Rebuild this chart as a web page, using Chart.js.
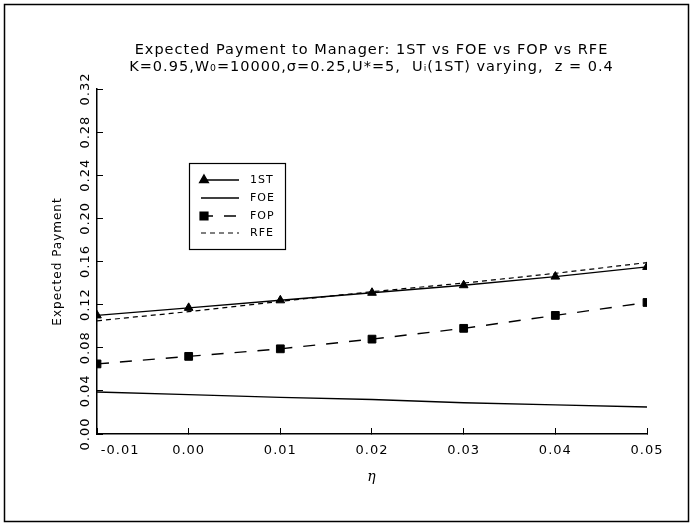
<!DOCTYPE html>
<html>
<head>
<meta charset="utf-8">
<script src="https://cdn.jsdelivr.net/npm/chart.js@4.4.1/dist/chart.umd.min.js"></script>
<style>
  html, body { margin: 0; padding: 0; background: #fff; }
  #wrap { width: 693px; height: 527px; }
</style>
</head>
<body>
<div id="wrap"><canvas id="canvas" width="693" height="527"></canvas></div>
<script>
// eta values on the x axis
var etaValues = [-0.01, 0.00, 0.01, 0.02, 0.03, 0.04, 0.05];

// expected payment series
var firstBest = [0.110, 0.117, 0.124, 0.131, 0.138, 0.146, 0.155];
var foeValues = [0.039, 0.0365, 0.034, 0.032, 0.029, 0.027, 0.025];
var fopValues = [0.065, 0.072, 0.079, 0.088, 0.098, 0.110, 0.122];
var rfeValues = [0.105, 0.1135, 0.123, 0.132, 0.140, 0.149, 0.159];

var seriesNames = ["1ST", "FOE", "FOP", "RFE"];

var titleLines = [
    "Expected Payment to Manager: 1ST vs FOE vs FOP vs RFE",
    "K=0.95,W\u2080=10000,\u03c3=0.25,U*=5,  U\u1d62(1ST) varying,  z = 0.4"
];

var toPoints = function (ys) {
    var pts = [];
    for (var i = 0; i < etaValues.length; i++) {
        pts.push({x: etaValues[i], y: ys[i]});
    }
    return pts;
};

var fontName = "'DejaVu Sans', sans-serif";

/* white page, outer frame, and the wide letter spacing of the old plot font */
var framePlugin = {
    id: 'frame',
    beforeDraw: function (chart) {
        var c = chart.ctx;
        c.fillStyle = '#fff';
        c.fillRect(0, 0, chart.width, chart.height);
        c.save();
        c.strokeStyle = '#000';
        c.lineWidth = 1.5;
        c.strokeRect(4.5, 4.5, 684, 517);
        c.restore();
        c.letterSpacing = '1px';
    }
};

/* boxed legend sitting inside the plot */
var boxLegend = {
    id: 'boxLegend',
    afterDatasetsDraw: function (chart) {
        var c = chart.ctx;
        var left = 189, top = 163, right = 285, bottom = 249;
        var rowY = [180, 198, 216, 233];
        c.save();
        c.strokeStyle = '#000';
        c.lineWidth = 1.2;
        c.fillStyle = '#fff';
        c.fillRect(left, top, right - left, bottom - top);
        c.strokeRect(left + 0.5, top + 0.5, right - left, bottom - top);
        chart.data.datasets.forEach(function (ds, i) {
            var y = rowY[i];
            c.strokeStyle = '#000';
            c.lineWidth = ds.borderWidth;
            c.setLineDash(ds.borderDash || []);
            c.beginPath();
            c.moveTo(201, y);
            c.lineTo(239, y);
            c.stroke();
            c.setLineDash([]);
            if (ds.pointRadius > 0) {
                Chart.helpers.drawPoint(c, {
                    pointStyle: ds.pointStyle,
                    radius: ds.pointRadius,
                    borderWidth: 1
                }, 204, y);
                c.fillStyle = '#000';
                c.fill();
            }
            c.fillStyle = '#000';
            c.font = "11px " + fontName;
            c.textBaseline = 'middle';
            c.textAlign = 'left';
            c.fillText(ds.label, 250, y);
        });
        c.restore();
    }
};

var config = {
    type: 'line',
    data: {
        datasets: [{
            label: seriesNames[0],
            data: toPoints(firstBest),
            borderColor: '#000',
            backgroundColor: '#000',
            borderWidth: 1.4,
            pointStyle: 'triangle',
            pointRadius: 5,
            pointBorderWidth: 1
        }, {
            label: seriesNames[1],
            data: toPoints(foeValues),
            borderColor: '#000',
            backgroundColor: '#000',
            borderWidth: 1.4,
            pointRadius: 0
        }, {
            label: seriesNames[2],
            data: toPoints(fopValues),
            borderColor: '#000',
            backgroundColor: '#000',
            borderWidth: 1.4,
            borderDash: [12, 11],
            pointStyle: 'rect',
            pointRadius: 5.5,
            pointBorderWidth: 1
        }, {
            label: seriesNames[3],
            data: toPoints(rfeValues),
            borderColor: '#000',
            backgroundColor: '#000',
            borderWidth: 1.2,
            borderDash: [5, 4],
            pointRadius: 0
        }]
    },
    options: {
        responsive: false,
        animation: false,
        events: [],
        layout: {
            padding: {left: 50, right: 0, top: 0, bottom: 40}
        },
        plugins: {
            legend: {display: false},
            tooltip: {enabled: false},
            title: {
                display: true,
                text: titleLines,
                color: '#000',
                font: {family: fontName, size: 14.5, weight: 'normal', lineHeight: 1.2},
                padding: {top: 41.3, bottom: 12.9}
            }
        },
        scales: {
            x: {
                type: 'linear',
                min: -0.01,
                max: 0.05,
                afterFit: function (scale) { scale.height = 53; },
                ticks: {
                    stepSize: 0.01,
                    color: '#000',
                    padding: 15,
                    maxRotation: 0,
                    font: {family: fontName, size: 13},
                    callback: function (v, i) {
                        var s = (Math.abs(v) < 1e-9 ? 0 : v).toFixed(2);
                        // first label sits to the right of the corner, as in the original
                        return i === 0 ? '\u2007\u2007\u2007\u2007\u2007' + s : s;
                    }
                },
                grid: {drawOnChartArea: false, drawTicks: true, tickLength: -6, color: '#000'},
                border: {color: '#000', width: 1.5},
                title: {
                    display: true,
                    text: '\u03b7',
                    color: '#000',
                    font: {family: "'DejaVu Serif', serif", size: 14, style: 'italic'},
                    padding: {top: 0, bottom: 1}
                }
            },
            y: {
                min: 0,
                max: 0.32,
                afterFit: function (scale) { scale.width = 47; },
                ticks: {
                    stepSize: 0.02,
                    color: '#000',
                    minRotation: 90,
                    maxRotation: 90,
                    crossAlign: 'center',
                    padding: 3,
                    font: {family: fontName, size: 13},
                    callback: function (v) {
                        var k = Math.round(v / 0.02);
                        return k % 2 === 0 ? (k * 0.02).toFixed(2) : '';
                    }
                },
                grid: {drawOnChartArea: false, drawTicks: true, tickLength: -6, color: '#000'},
                border: {color: '#000', width: 1.5},
                title: {
                    display: true,
                    text: 'Expected Payment',
                    color: '#000',
                    font: {family: fontName, size: 12},
                    padding: {top: 1, bottom: 0}
                }
            },
            // empty right margin, so the title is centred over the plot
            yRight: {
                position: 'right',
                min: 0,
                max: 1,
                afterFit: function (scale) { scale.width = 46; },
                ticks: {display: false},
                grid: {display: false},
                border: {display: false}
            }
        }
    },
    plugins: [framePlugin, boxLegend]
};

var ctx = document.getElementById("canvas").getContext("2d");
new Chart(ctx, config);
</script>
</body>
</html>
